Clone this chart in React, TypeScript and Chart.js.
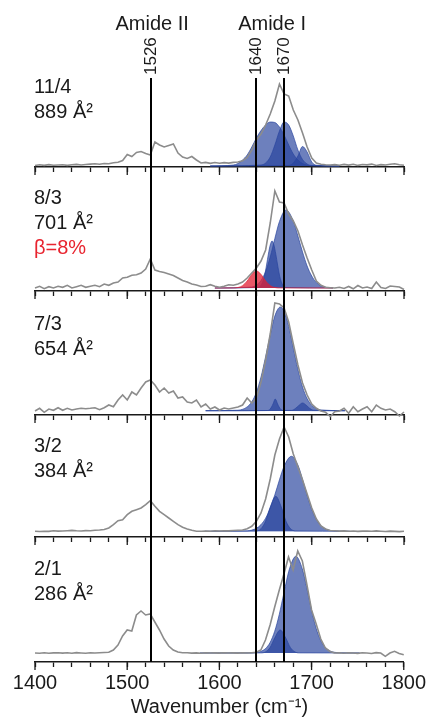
import React, { useEffect, useRef } from "react";
import { Chart, registerables } from "chart.js";

Chart.register(...registerables);

const FONT = "'Liberation Sans', Arial, Helvetica, sans-serif";
const INK = "#1a1a1a";
const GRAY = "#8c8c8c";
const BLUE = "rgba(40, 68, 158, 0.68)";
const RED = "rgba(226, 32, 52, 0.75)";
const RED_TEXT = "#e8242f";

// ---------- axis / annotation values ----------
const X_MIN = 1400;
const X_MAX = 1800;
const MINOR_STEP = 20;
const MAJOR_STEP = 100;
const Y_MAX = 116;
const MARKERS = [1526, 1640, 1670];
const MARKER_LABELS = ["1526", "1640", "1670"];
const BAND_LABELS = ["Amide II", "Amide I"];
const BAND_POSITIONS = [1527, 1657];
const X_TITLE = "Wavenumber (cm\u207B\u00B9)";

// ---------- spectra (shared wavenumber grid) ----------
const WAVENUMBERS = [
  1400, 1405, 1410, 1415, 1420, 1425, 1430, 1435, 1440, 1445,
  1450, 1455, 1460, 1465, 1470, 1475, 1480, 1485, 1490, 1495,
  1500, 1505, 1510, 1515, 1520, 1525, 1530, 1535, 1540, 1545,
  1550, 1555, 1560, 1565, 1570, 1575, 1580, 1585, 1590, 1595,
  1600, 1605, 1610, 1615, 1620, 1625, 1630, 1635, 1640, 1645,
  1650, 1655, 1660, 1665, 1670, 1675, 1680, 1685, 1690, 1695,
  1700, 1705, 1710, 1715, 1720, 1725, 1730, 1735, 1740, 1745,
  1750, 1755, 1760, 1765, 1770, 1775, 1780, 1785, 1790, 1795,
  1800,
];

// 11/4
const P1_LABELS = ["11/4", "889 \u00C5\u00B2"];
const P1_SPECTRUM = [
  1.5, 2.2, 1.6, 2.4, 1.7, 2.0, 2.3, 1.6, 2.2, 2.6,
  2.0, 2.5, 2.9, 3.2, 2.7, 3.5, 3.3, 4.2, 4.8, 6.5,
  12.5, 10.5, 14.5, 15.5, 13.5, 12.0, 25, 22, 20, 21.5,
  23, 14, 10, 8.5, 10.5, 7, 4, 4.6, 3.6, 4.5,
  3.8, 4.4, 3.9, 4.6, 5.0, 6.2, 9.5, 17, 27, 33,
  42, 53, 66, 83, 73, 71, 57, 47, 34, 20,
  9, 4, 2.7, 2.2, 2.0, 2.4, 1.8, 2.6, 1.9, 2.8,
  1.6, 2.5, 2.1, 2.9, 1.5, 2.4, 2.0, 2.7, 3.2, 2.3,
  1.8,
];
const P1_BASE = 1;
const P1_C1_X = [1590, 1615, 1620, 1625, 1630, 1635, 1640, 1645, 1650, 1655, 1660, 1665, 1670, 1675, 1680, 1685, 1690, 1695, 1700, 1730];
const P1_C1_Y = [1, 2, 3.5, 7, 12, 20, 29, 36.5, 42, 45, 44.5, 40, 32, 22, 13, 7, 3.5, 1.8, 1.2, 1];
const P1_C2_X = [1590, 1645, 1650, 1655, 1660, 1665, 1670, 1675, 1680, 1685, 1690, 1695, 1700, 1730];
const P1_C2_Y = [1, 2, 4, 10, 22, 36, 45, 42, 31, 17, 7.5, 3, 1.5, 1];
const P1_C3_X = [1590, 1675, 1680, 1685, 1690, 1695, 1700, 1705, 1730];
const P1_C3_Y = [1, 1.5, 4, 11, 20.5, 15, 5, 1.8, 1];

// 8/3
const P2_LABELS = ["8/3", "701 \u00C5\u00B2", "\u03B2=8%"];
const P2_SPECTRUM = [
  3, 4.7, 2.3, 4.3, 3, 4.7, 3.7, 5.7, 3, 4.3,
  5.7, 3.7, 4.7, 5.7, 4.3, 7, 5.7, 8, 9, 13,
  13.7, 15.7, 16.3, 18, 22, 32, 21, 19.5, 18.5, 17,
  15.5, 13, 10.5, 9, 7, 6, 4.5, 4.7, 6.3, 4.7,
  3.7, 4.7, 6.3, 5.7, 7, 9, 13, 18, 23, 30,
  41, 68, 100, 89, 88, 77, 70, 60, 46, 33,
  21, 10, 5.7, 3.7, 3.3, 3, 3.8, 2.5, 4.5, 2.2,
  5.5, 3, 4, 2.5, 9, 3.5, 2.5, 5, 4.5, 4,
  1.5,
];
const P2_BASE = 3;
const P2_WIDE_X = [1595, 1635, 1640, 1645, 1650, 1655, 1660, 1665, 1672, 1680, 1685, 1690, 1695, 1700, 1705, 1710, 1723];
const P2_WIDE_Y = [3, 4, 6, 10.5, 19.5, 34, 52.5, 69.5, 81, 70, 55, 39, 25, 15, 8.5, 5, 3];
const P2_NARROW_X = [1595, 1642, 1645, 1647, 1649, 1651, 1653, 1655, 1657, 1659, 1661, 1663, 1665, 1667, 1669, 1672, 1723];
const P2_NARROW_Y = [3, 3.5, 5.6, 9.3, 16, 26, 37, 46, 50, 46, 37, 26, 16, 9.3, 5.6, 3.5, 3];
const P2_BETA_X = [1595, 1615, 1620, 1625, 1630, 1635, 1640, 1645, 1650, 1655, 1660, 1665, 1723];
const P2_BETA_Y = [3, 3.1, 3.5, 5.3, 10, 16.6, 20, 16.6, 10, 5.3, 3.5, 3.1, 3];

// 7/3
const P3_LABELS = ["7/3", "654 \u00C5\u00B2"];
const P3_SPECTRUM = [
  4, 6.7, 2.7, 6, 4.7, 7.3, 4.7, 6.7, 5, 6,
  6.7, 6.3, 6.7, 7.3, 5.3, 7.3, 10, 8.3, 15, 20,
  15, 23, 20, 27, 33, 35, 30, 23, 27, 22,
  24, 17, 18, 13, 12, 15, 8, 11, 6, 8,
  5, 7, 6, 7, 8, 10, 17, 12, 17, 33,
  55, 81, 112, 111, 107, 93, 71, 50, 32, 20,
  11, 6.7, 4, 2.7, -1.5, 3.3, 4, 6.7, 1.7, 8.3,
  3.3, 6, 8.3, 3.3, 10, 6.7, 5, 6, 3.3, -1,
  3,
];
const P3_BASE = 4.3;
const P3_MAIN_X = [1585, 1620, 1625, 1630, 1635, 1640, 1645, 1650, 1655, 1660, 1666, 1672, 1676, 1680, 1685, 1690, 1695, 1700, 1705, 1710, 1736];
const P3_MAIN_Y = [4.3, 4.8, 5.7, 8.1, 13.2, 22.8, 38, 58.4, 80, 99, 108, 99, 84.7, 67, 45.6, 28, 16.4, 9.7, 6.4, 5, 4.3];
const P3_SIDE1_X = [1585, 1652, 1655, 1658, 1660.5, 1663, 1666, 1669, 1736];
const P3_SIDE1_Y = [4.3, 4.5, 6, 11, 16, 11, 6, 4.5, 4.3];
const P3_SIDE2_X = [1585, 1678, 1682, 1686, 1690, 1694, 1698, 1702, 1736];
const P3_SIDE2_Y = [4.3, 4.6, 6.3, 9.5, 12, 9.8, 6.5, 4.8, 4.3];

// 3/2
const P4_LABELS = ["3/2", "384 \u00C5\u00B2"];
const P4_SPECTRUM = [
  5.7, 5.5, 5.8, 5.6, 6.2, 5.9, 6.0, 6.3, 6.6, 6.2,
  6.0, 6.4, 6.3, 6.8, 7, 7.5, 9, 12.3, 16.3, 17.3,
  22.3, 25.7, 27.3, 29, 32.3, 36.3, 30.7, 25.7, 22.3, 19,
  15.7, 12.3, 9.7, 8, 6.7, 5.7, 5.8, 6, 5.7, 6.2,
  6, 6.3, 6.1, 6.5, 6.8, 7, 8.3, 10.7, 15.7, 24,
  38, 58, 82, 98, 110, 100, 83, 70, 57, 43,
  29, 18, 11, 8, 6.5, 6.2, 5.9, 6.1, 5.8, 6,
  5.6, 5.9, 6.0, 5.7, 6.1, 5.8, 5.5, 5.9, 5.6, 5.4,
  5.7,
];
const P4_BASE = 5.7;
const P4_MAIN_X = [1584, 1630, 1635, 1640, 1645, 1650, 1655, 1660, 1665, 1670, 1678, 1685, 1690, 1695, 1700, 1705, 1710, 1715, 1720, 1741];
const P4_MAIN_Y = [5.7, 6.1, 6.9, 8.7, 12.4, 18.8, 29, 42.2, 57.2, 70.7, 80.7, 71.9, 57.7, 41.6, 27.5, 17.4, 11.2, 8, 6.5, 5.7];
const P4_SIDE_X = [1584, 1640, 1645, 1650, 1655, 1661, 1667, 1672, 1677, 1682, 1741];
const P4_SIDE_Y = [5.7, 6.1, 8.3, 15.9, 29.9, 40.7, 29.9, 15.9, 8.3, 6.1, 5.7];

// 2/1
const P5_LABELS = ["2/1", "286 \u00C5\u00B2"];
const P5_SPECTRUM = [
  9, 8.8, 9.2, 8.7, 9.1, 9.3, 8.9, 9.2, 8.8, 9.4,
  9, 8.7, 9.2, 9.0, 9.3, 9.5, 9.7, 12, 17, 26,
  32, 31, 47, 51, 47, 48, 40, 32, 23, 16,
  12, 10, 9.2, 9.2, 8.9, 9.1, 8.8, 9.2, 9, 9.1,
  8.9, 9.2, 9, 9.1, 8.9, 9.2, 9, 9.3, 9.7, 12,
  22, 37, 55, 72, 88, 105, 92, 111, 101, 77,
  52, 38, 23, 14, 10.5, 9, 9.2, 8.8, 9.3, 9,
  8.6, 9.2, 9, 8.5, 9.4, 9, 5.7, 9, 10.7, 8.5,
  7.3,
];
const P5_BASE = 9;
const P5_MAIN_X = [1579, 1635, 1640, 1645, 1650, 1655, 1660, 1665, 1670, 1676, 1683, 1690, 1695, 1700, 1705, 1710, 1715, 1720, 1725, 1730, 1752];
const P5_MAIN_Y = [9, 9.1, 9.5, 10.6, 13.4, 19.5, 30.7, 47.7, 69, 93, 105.7, 93, 73.4, 51.8, 33.7, 21.4, 14.4, 11, 9.7, 9.2, 9];
const P5_SIDE_X = [1579, 1645, 1650, 1655, 1660, 1666, 1672, 1677, 1682, 1687, 1752];
const P5_SIDE_Y = [9, 9.1, 10.1, 14.5, 24, 32, 24, 14.5, 10.1, 9.1, 9];

// ---------- panel definitions built from the arrays ----------
type Comp = { x: number[]; y: number[]; base: number; color: string };
type PanelDef = { labels: string[]; labelColors: string[]; spectrum: number[]; comps: Comp[] };

const PANELS: PanelDef[] = [
  {
    labels: P1_LABELS,
    labelColors: [INK, INK],
    spectrum: P1_SPECTRUM,
    comps: [
      { x: P1_C3_X, y: P1_C3_Y, base: P1_BASE, color: BLUE },
      { x: P1_C2_X, y: P1_C2_Y, base: P1_BASE, color: BLUE },
      { x: P1_C1_X, y: P1_C1_Y, base: P1_BASE, color: BLUE },
    ],
  },
  {
    labels: P2_LABELS,
    labelColors: [INK, INK, RED_TEXT],
    spectrum: P2_SPECTRUM,
    comps: [
      { x: P2_BETA_X, y: P2_BETA_Y, base: P2_BASE, color: RED },
      { x: P2_NARROW_X, y: P2_NARROW_Y, base: P2_BASE, color: BLUE },
      { x: P2_WIDE_X, y: P2_WIDE_Y, base: P2_BASE, color: BLUE },
    ],
  },
  {
    labels: P3_LABELS,
    labelColors: [INK, INK],
    spectrum: P3_SPECTRUM,
    comps: [
      { x: P3_SIDE1_X, y: P3_SIDE1_Y, base: P3_BASE, color: BLUE },
      { x: P3_SIDE2_X, y: P3_SIDE2_Y, base: P3_BASE, color: BLUE },
      { x: P3_MAIN_X, y: P3_MAIN_Y, base: P3_BASE, color: BLUE },
    ],
  },
  {
    labels: P4_LABELS,
    labelColors: [INK, INK],
    spectrum: P4_SPECTRUM,
    comps: [
      { x: P4_SIDE_X, y: P4_SIDE_Y, base: P4_BASE, color: BLUE },
      { x: P4_MAIN_X, y: P4_MAIN_Y, base: P4_BASE, color: BLUE },
    ],
  },
  {
    labels: P5_LABELS,
    labelColors: [INK, INK],
    spectrum: P5_SPECTRUM,
    comps: [
      { x: P5_SIDE_X, y: P5_SIDE_Y, base: P5_BASE, color: BLUE },
      { x: P5_MAIN_X, y: P5_MAIN_Y, base: P5_BASE, color: BLUE },
    ],
  },
];

// ---------- layout (page pixels) ----------
const LAYOUT = [
  { top: 0, height: 177, padTop: 51, lineTop: 78, labelY: [-74, -49] },
  { top: 167, height: 134, padTop: 8, lineTop: 0, labelY: [-87, -62, -37] },
  { top: 291, height: 134, padTop: 8, lineTop: 0, labelY: [-85, -60] },
  { top: 415, height: 132, padTop: 6, lineTop: 0, labelY: [-85, -60] },
  { top: 537, height: 181, padTop: 9, lineTop: 0, labelY: [-87, -62] },
];

function makeOverlay(index: number) {
  const def = PANELS[index];
  const lay = LAYOUT[index];
  return {
    id: "overlay" + index,
    afterDatasetsDraw(chart: any) {
      const { ctx, chartArea, scales } = chart;
      const x = scales.x;
      ctx.save();
      ctx.strokeStyle = "#000";
      ctx.lineWidth = 2;
      ctx.lineCap = "butt";
      for (const m of MARKERS) {
        const px = Math.round(x.getPixelForValue(m));
        ctx.beginPath();
        ctx.moveTo(px, lay.lineTop);
        ctx.lineTo(px, chartArea.bottom);
        ctx.stroke();
      }
      ctx.restore();
    },
    afterDraw(chart: any) {
      const { ctx, chartArea, scales } = chart;
      const x = scales.x;
      ctx.save();
      // longer major ticks
      ctx.strokeStyle = INK;
      ctx.lineWidth = 1.3;
      for (let v = X_MIN; v <= X_MAX; v += MAJOR_STEP) {
        const px = x.getPixelForValue(v);
        ctx.beginPath();
        ctx.moveTo(px, chartArea.bottom);
        ctx.lineTo(px, chartArea.bottom + 8);
        ctx.stroke();
      }
      // panel labels
      ctx.font = `20px ${FONT}`;
      ctx.textAlign = "left";
      ctx.textBaseline = "alphabetic";
      def.labels.forEach((t, i) => {
        ctx.fillStyle = def.labelColors[i];
        ctx.fillText(t, 34, chartArea.bottom + lay.labelY[i]);
      });
      if (index === 0) {
        ctx.fillStyle = INK;
        ctx.font = `20px ${FONT}`;
        ctx.textAlign = "center";
        BAND_LABELS.forEach((t, i) => {
          ctx.fillText(t, x.getPixelForValue(BAND_POSITIONS[i]), 30);
        });
        ctx.font = `17px ${FONT}`;
        ctx.textAlign = "left";
        MARKERS.forEach((m, i) => {
          const px = Math.round(x.getPixelForValue(m));
          ctx.save();
          ctx.translate(px + 5, 75);
          ctx.rotate(-Math.PI / 2);
          ctx.fillText(MARKER_LABELS[i], 0, 0);
          ctx.restore();
        });
      }
      ctx.restore();
    },
  };
}

function buildChart(canvas: HTMLCanvasElement, index: number) {
  const def = PANELS[index];
  const lay = LAYOUT[index];
  const isLast = index === PANELS.length - 1;

  const datasets: any[] = [
    {
      data: WAVENUMBERS.map((w, i) => ({ x: w, y: def.spectrum[i] })),
      borderColor: GRAY,
      borderWidth: 1.6,
      pointRadius: 0,
      fill: false,
      tension: 0,
      clip: false,
    },
    ...def.comps.map((c) => ({
      data: c.x.map((w, i) => ({ x: w, y: c.y[i] })),
      borderColor: c.color,
      backgroundColor: c.color,
      borderWidth: 1,
      pointRadius: 0,
      fill: { value: c.base },
      cubicInterpolationMode: "monotone",
      clip: false,
    })),
  ];

  return new Chart(canvas, {
    type: "line",
    data: { datasets },
    options: {
      animation: false,
      responsive: false,
      devicePixelRatio: 1,
      events: [],
      layout: { padding: { top: lay.padTop, left: 35, right: 26, bottom: 0 } },
      plugins: { legend: { display: false }, tooltip: { enabled: false } },
      scales: {
        x: {
          type: "linear",
          min: X_MIN,
          max: X_MAX,
          ticks: {
            stepSize: MINOR_STEP,
            autoSkip: false,
            maxRotation: 0,
            display: isLast,
            padding: 4,
            color: INK,
            font: { size: 20, family: FONT },
            callback: (v: any) => (Number(v) % MAJOR_STEP === 0 ? String(v) : ""),
          },
          grid: {
            drawOnChartArea: false,
            drawTicks: true,
            tickLength: 5,
            tickColor: INK,
            tickWidth: 1.3,
          },
          border: { display: true, color: INK, width: 1.5 },
          title: {
            display: isLast,
            text: X_TITLE,
            color: INK,
            font: { size: 20, family: FONT, lineHeight: 1 },
            padding: { top: 0, bottom: 1 },
          },
          afterFit: (s: any) => {
            s.height = isLast ? 56 : 10;
          },
        },
        y: { min: 0, max: Y_MAX, display: false },
      },
    } as any,
    plugins: [makeOverlay(index)],
  });
}

function Panel({ index }: { index: number }) {
  const ref = useRef<HTMLCanvasElement | null>(null);
  const lay = LAYOUT[index];
  useEffect(() => {
    const chart = buildChart(ref.current as HTMLCanvasElement, index);
    return () => chart.destroy();
  }, [index]);
  return (
    <canvas
      ref={ref}
      width={430}
      height={lay.height}
      style={{ position: "absolute", left: 0, top: lay.top, width: 430, height: lay.height, display: "block" }}
    />
  );
}

export default function App() {
  return (
    <div
      style={{
        position: "absolute",
        left: 0,
        top: 0,
        width: 430,
        height: 718,
        background: "#fff",
        overflow: "hidden",
      }}
    >
      {PANELS.map((_, i) => (
        <Panel key={i} index={i} />
      ))}
    </div>
  );
}
